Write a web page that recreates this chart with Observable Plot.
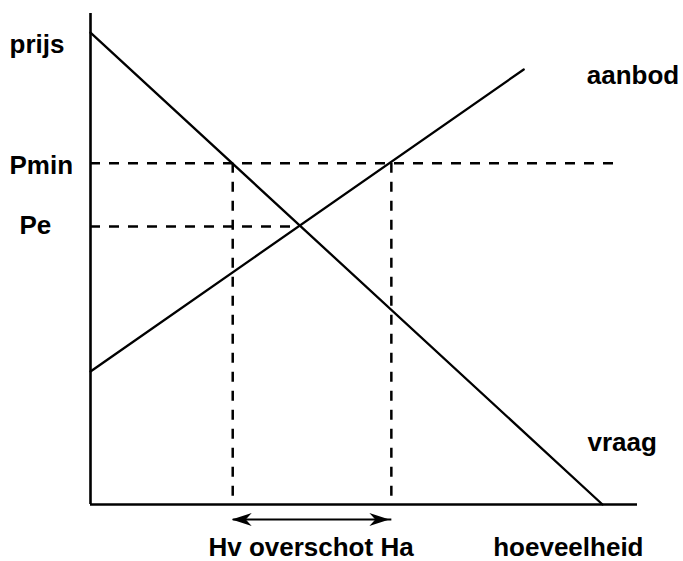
<!DOCTYPE html>
<html>
<head>
<meta charset="utf-8">
<script src="https://cdn.jsdelivr.net/npm/d3@7"></script>
<script src="https://cdn.jsdelivr.net/npm/@observablehq/plot@0.6"></script>
<style>
  html, body { margin: 0; padding: 0; background: #fff; }
</style>
</head>
<body>
<div id="chart"></div>
<script>
// ---- data (abstract units 0..100) ----
const vraagQ = [0, 93.6];
const vraagP = [96.1, 0];
const aanbodQ = [0, 79.2];
const aanbodP = [27.1, 88.6];
const prijsLabels = ["Pmin", "Pe"];
const prijsWaarden = [69.5, 56.6];
const hoeveelheidLabels = ["Hv", "Ha"];
const hoeveelheidWaarden = [26.0, 55.0];
const evenwichtQ = [38.2];
const asLabels = ["prijs", "hoeveelheid"];
const curveLabels = ["vraag", "aanbod"];
const overschotLabel = ["overschot"];

const [Pmin, Pe] = prijsWaarden;
const [Hv, Ha] = hoeveelheidWaarden;

const font = "Liberation Sans, Arial, Helvetica, sans-serif";
const textOpts = {fontFamily: font, fontSize: 26, fontWeight: "bold", fill: "black"};
const dash = "10,9";

// custom filled arrowheads (tip at origin)
const headRight = {draw(ctx) { ctx.moveTo(0, 0); ctx.lineTo(-20, -6.5); ctx.lineTo(-14, 0); ctx.lineTo(-20, 6.5); ctx.closePath(); }};
const headLeft = {draw(ctx) { ctx.moveTo(0, 0); ctx.lineTo(20, -6.5); ctx.lineTo(14, 0); ctx.lineTo(20, 6.5); ctx.closePath(); }};

const one = [0];

const chart = Plot.plot({
  width: 683,
  height: 561,
  marginLeft: 90,
  marginRight: 46,
  marginTop: 13,
  marginBottom: 57,
  x: {domain: [0, 100], axis: null},
  y: {domain: [0, 100], axis: null},
  style: {background: "white", overflow: "visible"},
  marks: [
    // dashed guides
    Plot.ruleY([Pmin], {x1: 0, x2: 96.3, stroke: "black", strokeWidth: 2.5, strokeDasharray: dash}),
    Plot.ruleY([Pe], {x1: 0, x2: evenwichtQ[0], stroke: "black", strokeWidth: 2.5, strokeDasharray: dash}),
    Plot.ruleX(hoeveelheidWaarden, {y1: Pmin, y2: 0, stroke: "black", strokeWidth: 2.5, strokeDasharray: dash}),
    // curves
    Plot.line([0, 1], {x: vraagQ, y: vraagP, stroke: "black", strokeWidth: 2.3}),
    Plot.line([0, 1], {x: aanbodQ, y: aanbodP, stroke: "black", strokeWidth: 2.3}),
    // axes
    Plot.ruleX([0], {y1: 0, y2: 100, stroke: "black", strokeWidth: 2.6}),
    Plot.ruleY([0], {x1: 0, x2: 100, stroke: "black", strokeWidth: 2.6}),
    // double arrow
    Plot.link(one, {x1: Hv, x2: Ha, y1: 0, y2: 0, dy: 15, stroke: "black", strokeWidth: 2.2}),
    Plot.dot(one, {x: Hv, y: 0, dy: 15, dx: -1, r: 5, symbol: headLeft, fill: "black", stroke: "none"}),
    Plot.dot(one, {x: Ha, y: 0, dy: 15, dx: -2, r: 5, symbol: headRight, fill: "black", stroke: "none"}),
    // labels
    Plot.text([asLabels[0]], {x: 0, y: 100, text: d => d, textAnchor: "start", dx: -81, dy: 31, ...textOpts}),
    Plot.text([prijsLabels[0]], {x: 0, y: Pmin, text: d => d, textAnchor: "start", dx: -81, dy: 2, ...textOpts}),
    Plot.text([prijsLabels[1]], {x: 0, y: Pe, text: d => d, textAnchor: "start", dx: -71, dy: -1, ...textOpts}),
    Plot.text([curveLabels[1]], {x: aanbodQ[1], y: aanbodP[1], text: d => d, textAnchor: "start", dx: 63, dy: 6, ...textOpts}),
    Plot.text([curveLabels[0]], {x: vraagQ[1], y: 0, text: d => d, textAnchor: "start", dx: -15, dy: -62, ...textOpts}),
    Plot.text([asLabels[1]], {x: 100, y: 0, text: d => d, textAnchor: "end", dx: 6, dy: 43, ...textOpts}),
    Plot.text([`${hoeveelheidLabels[0]} ${overschotLabel[0]} ${hoeveelheidLabels[1]}`], {x: (Hv + Ha) / 2, y: 0, text: d => d, textAnchor: "middle", dx: -1, dy: 43, ...textOpts})
  ]
});

document.getElementById("chart").appendChild(chart);
</script>
</body>
</html>
